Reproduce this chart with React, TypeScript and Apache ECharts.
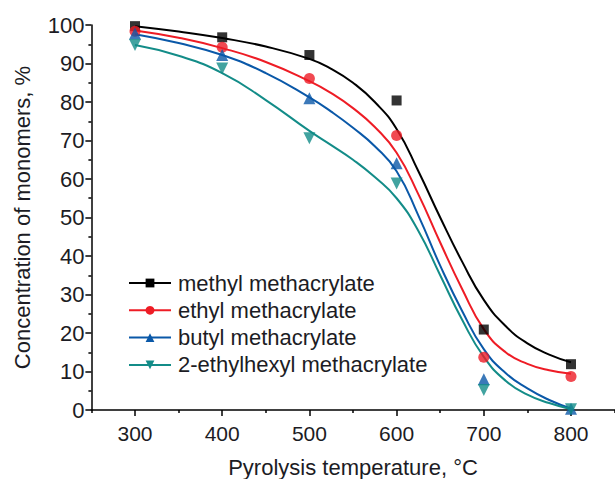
import React, { useEffect, useRef } from "react";
import * as echarts from "echarts";

// Measured points (temperature, °C)
const temps = [300, 400, 500, 600, 700, 800];
const mmaPoints = [99.7, 96.8, 92.2, 80.4, 20.9, 11.9];
const emaPoints = [98.4, 94.2, 86.1, 71.3, 13.7, 8.7];
const bmaPoints = [97.8, 92.2, 81.0, 64.1, 8.0, 0.3];
const ehmaPoints = [94.8, 88.7, 70.6, 58.8, 5.2, 0.2];

// Fitted curves
const curveTemps = [300, 350, 400, 450, 500, 525, 550, 575, 600, 625, 650, 675, 700, 725, 750, 775, 800];
const mmaCurve = [99.7, 98.3, 96.6, 94.4, 91.2, 88.6, 85.0, 80.0, 73.0, 62.0, 50.0, 38.6, 28.6, 21.8, 17.3, 14.4, 12.4];
const emaCurve = [98.6, 96.7, 94.0, 90.4, 85.4, 82.3, 78.4, 73.5, 66.8, 56.0, 43.5, 31.5, 21.0, 15.0, 12.0, 10.3, 9.4];
const bmaCurve = [97.6, 95.3, 92.2, 87.5, 81.2, 77.5, 73.3, 68.5, 62.0, 50.5, 37.5, 25.8, 15.8, 9.6, 5.6, 2.6, 0.4];
const ehmaCurve = [94.8, 92.0, 87.5, 80.5, 72.5, 68.8, 65.0, 60.5, 55.0, 46.5, 35.0, 23.5, 13.8, 7.6, 4.0, 1.8, 0.2];

const seriesNames = [
  "methyl methacrylate",
  "ethyl methacrylate",
  "butyl methacrylate",
  "2-ethylhexyl methacrylate",
];
const colors = ["#000000", "#ee1c25", "#0a58a8", "#138c88"];
const symbols = ["rect", "circle", "triangle", "triangle"];
const symbolRotates = [0, 0, 0, 180];
const symbolSizes = [10, 11, 12, 12];

const majorXTicks = [300, 400, 500, 600, 700, 800];
const minorXTicks = [250, 350, 450, 550, 650, 750, 850];

const FONT = "'Liberation Sans', Arial, sans-serif";
const TEXT = "#1c1c24";

export default function App() {
  const ref = useRef<HTMLDivElement>(null);
  useEffect(() => {
    if (!ref.current) return;
    const chart = echarts.init(ref.current, null, { renderer: "svg" });
    const curves = [mmaCurve, emaCurve, bmaCurve, ehmaCurve];
    const points = [mmaPoints, emaPoints, bmaPoints, ehmaPoints];
    const series: any[] = [];
    seriesNames.forEach((name, i) => {
      series.push({
        name,
        type: "line",
        xAxisIndex: 0,
        data: curveTemps.map((t, j) => [t, curves[i][j]]),
        smooth: 0.5,
        showSymbol: false,
        symbol: symbols[i],
        symbolRotate: symbolRotates[i],
        color: colors[i],
        lineStyle: { color: colors[i], width: 2 },
        z: 2,
      });
    });
    seriesNames.forEach((name, i) => {
      series.push({
        name: name + " (data)",
        type: "scatter",
        xAxisIndex: 0,
        data: temps.map((t, j) => [t, points[i][j]]),
        symbol: symbols[i],
        symbolRotate: symbolRotates[i],
        symbolSize: symbolSizes[i],
        itemStyle: { color: colors[i] },
        z: 3,
      });
    });
    chart.setOption({
      animation: false,
      textStyle: { fontFamily: FONT },
      grid: {
        left: 91.4,
        right: 0.4,
        top: 25,
        bottom: 69,
        containLabel: false,
        outerBoundsMode: "none",
      },
      legend: {
        data: seriesNames,
        orient: "vertical",
        left: 128,
        top: 272,
        itemWidth: 42,
        itemHeight: 11,
        itemGap: 5.3,
        textStyle: { fontSize: 22, color: TEXT, fontFamily: FONT, padding: [0, 0, 0, 2] },
        padding: 0,
      },
      xAxis: [
        {
          type: "value",
          min: 250,
          max: 850,
          position: "bottom",
          name: "Pyrolysis temperature, °C",
          nameLocation: "middle",
          nameGap: 46,
          nameTextStyle: { fontSize: 22, color: TEXT, fontFamily: FONT },
          axisLine: { show: true, lineStyle: { color: "#000", width: 1.5 } },
          axisTick: { show: true, customValues: majorXTicks, length: 6, lineStyle: { color: "#000", width: 1.5 } },
          axisLabel: { customValues: majorXTicks, fontSize: 21, color: TEXT, margin: 13, fontFamily: FONT },
          splitLine: { show: false },
        },
        {
          type: "value",
          min: 250,
          max: 850,
          position: "bottom",
          axisLine: { show: false },
          axisTick: { show: true, customValues: minorXTicks, length: 3, lineStyle: { color: "#000", width: 1.5 } },
          axisLabel: { show: false },
          splitLine: { show: false },
        },
      ],
      yAxis: {
        type: "value",
        min: 0,
        max: 100,
        interval: 10,
        name: "Concentration of monomers, %",
        nameLocation: "middle",
        nameGap: 58,
        nameTextStyle: { fontSize: 22, color: TEXT, fontFamily: FONT },
        axisLine: { show: true, lineStyle: { color: "#000", width: 1.5 } },
        axisTick: { show: true, length: 6, lineStyle: { color: "#000", width: 1.5 } },
        minorTick: { show: true, splitNumber: 2, length: 3, lineStyle: { color: "#000", width: 1.5 } },
        axisLabel: { fontSize: 22, color: TEXT, margin: 7, fontFamily: FONT },
        splitLine: { show: false },
        minorSplitLine: { show: false },
      },
      series,
    });
    return () => chart.dispose();
  }, []);
  return (
    <div
      ref={ref}
      style={{ position: "absolute", left: 0, top: 0, width: 615, height: 479, background: "#fff" }}
    />
  );
}
